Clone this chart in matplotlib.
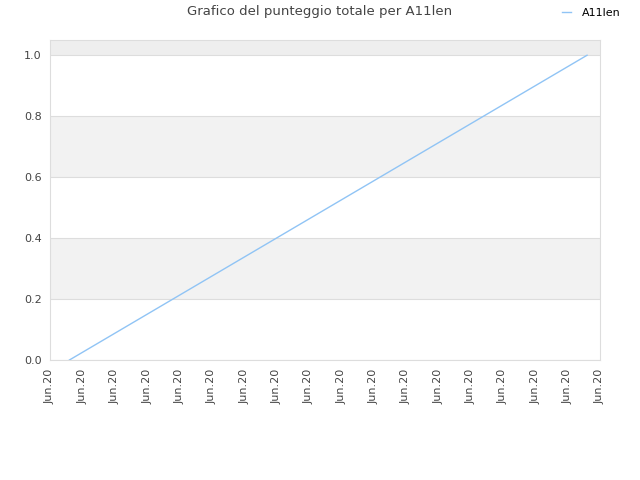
import matplotlib
matplotlib.use("Agg")
import matplotlib.pyplot as plt

# values
x_pos = [0.6, 16.6]
scores = [0.0, 1.0]
tick_labels = ["Jun.20"] * 18
series_name = "A11len"

fig = plt.figure(figsize=(6.4, 4.8), dpi=100)
ax = fig.add_axes([50 / 640, 120 / 480, 550 / 640, 320 / 480])

# alternating bands
for lo, hi in [(0.2, 0.4), (0.6, 0.8), (1.0, 1.05)]:
    ax.axhspan(lo, hi, color="#f2f2f2" if hi < 1.0 else "#eeeeee", zorder=0, lw=0)

ax.plot(x_pos, scores, color="#90c4f5", lw=1, label=series_name, zorder=3)

ax.set_xlim(0, 17)
ax.set_ylim(0, 1.05)
ax.set_xticks(range(len(tick_labels)))
ax.set_xticklabels(tick_labels, rotation=90, fontsize=8, color="#444444")
ax.set_yticks([0.0, 0.2, 0.4, 0.6, 0.8, 1.0])
ax.set_yticklabels(["0.0", "0.2", "0.4", "0.6", "0.8", "1.0"], fontsize=8, color="#444444")
ax.tick_params(length=0, pad=6)
ax.yaxis.grid(True, color="#dddddd", lw=0.8, zorder=1)
ax.set_axisbelow(True)
for s in ax.spines.values():
    s.set_color("#dddddd")

fig.text(0.5, 1 - 12 / 480, "Grafico del punteggio totale per A11len",
         ha="center", va="center", fontsize=9.5, color="#444444")
fig.legend(loc="center", bbox_to_anchor=(591 / 640, 1 - 13 / 480), frameon=False,
           fontsize=8, handlelength=0.8, handletextpad=1.0)

fig.savefig("out.png", dpi=100)
